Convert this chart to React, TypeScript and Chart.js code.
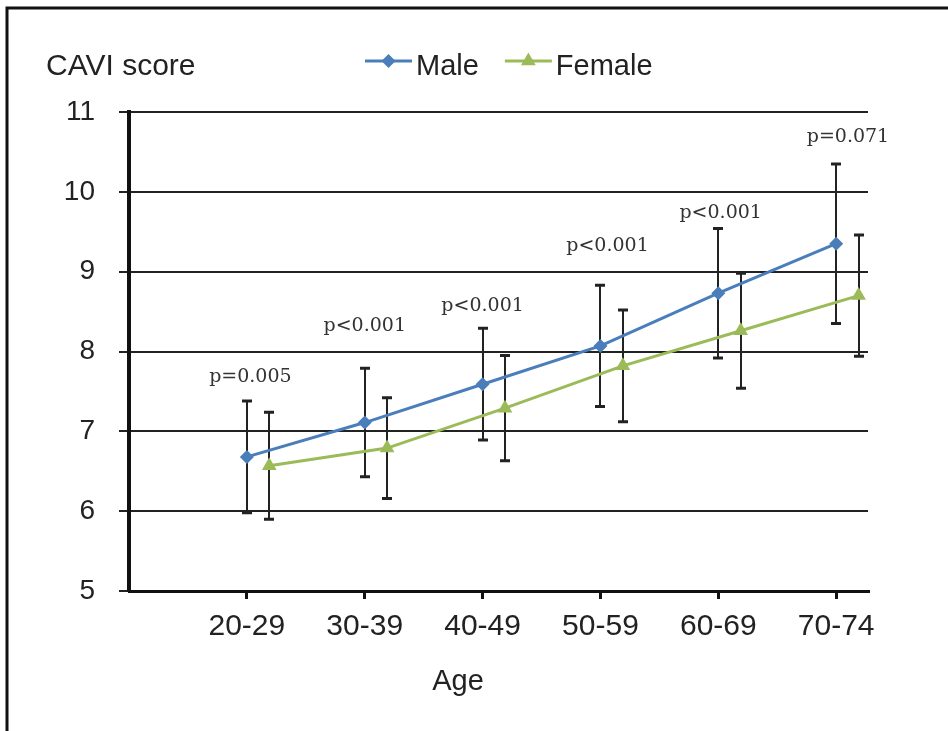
import React, { useEffect, useRef } from 'react';
import { Chart, registerables } from 'chart.js';

Chart.register(...registerables);

// ---- data ----
const categories = ['20-29', '30-39', '40-49', '50-59', '60-69', '70-74'];
const maleMean = [6.68, 7.11, 7.59, 8.07, 8.73, 9.35];
const maleSD = [0.7, 0.68, 0.7, 0.76, 0.81, 1.0];
const femaleMean = [6.57, 6.79, 7.29, 7.82, 8.26, 8.7];
const femaleSD = [0.67, 0.63, 0.66, 0.7, 0.72, 0.76];
const pValues = ['p=0.005', 'p<0.001', 'p<0.001', 'p<0.001', 'p<0.001', 'p=0.071'];
const pLabelX = [1.03, 2.0, 3.0, 4.06, 5.02, 6.1];
const pLabelY = [7.68, 8.32, 8.57, 9.32, 9.73, 10.69];
const yTicks = [5, 6, 7, 8, 9, 10, 11];

// ---- style ----
const MALE_COLOR = '#4a7ebb';
const FEMALE_COLOR = '#9bbb59';
const FEMALE_SHIFT = 0.19;
const SANS = "'Liberation Sans', Arial, sans-serif";
const SERIF = "'DejaVu Serif', serif";
const TEXT = '#222';

function drawMarker(ctx: CanvasRenderingContext2D, style: string, x: number, y: number, r: number, color: string) {
  ctx.save();
  ctx.fillStyle = color;
  ctx.beginPath();
  if (style === 'triangle') {
    ctx.moveTo(x, y - r);
    ctx.lineTo(x + r * 0.866, y + r * 0.5);
    ctx.lineTo(x - r * 0.866, y + r * 0.5);
  } else {
    ctx.moveTo(x, y - r);
    ctx.lineTo(x + r, y);
    ctx.lineTo(x, y + r);
    ctx.lineTo(x - r, y);
  }
  ctx.closePath();
  ctx.fill();
  ctx.restore();
}

const extrasPlugin = {
  id: 'extras',
  beforeDatasetsDraw(chart: any) {
    const { ctx } = chart;
    const x = chart.scales.x;
    const y = chart.scales.y;
    ctx.save();
    ctx.strokeStyle = '#222';
    chart.data.datasets.forEach((ds: any) => {
      ds.data.forEach((p: any) => {
        const px = Math.round(x.getPixelForValue(p.x));
        const top = y.getPixelForValue(p.y + p.sd);
        const bot = y.getPixelForValue(p.y - p.sd);
        ctx.lineWidth = 2;
        ctx.beginPath();
        ctx.moveTo(px, top);
        ctx.lineTo(px, bot);
        ctx.stroke();
        ctx.lineWidth = 3;
        ctx.beginPath();
        ctx.moveTo(px - 5, top);
        ctx.lineTo(px + 5, top);
        ctx.moveTo(px - 5, bot);
        ctx.lineTo(px + 5, bot);
        ctx.stroke();
      });
    });
    ctx.restore();
  },
  afterDraw(chart: any) {
    const { ctx, chartArea } = chart;
    const x = chart.scales.x;
    const y = chart.scales.y;
    ctx.save();
    // frame
    ctx.strokeStyle = '#111';
    ctx.lineWidth = 3;
    ctx.beginPath();
    ctx.moveTo(7, chart.height);
    ctx.lineTo(7, 8);
    ctx.lineTo(chart.width, 8);
    ctx.stroke();

    // y axis title
    ctx.fillStyle = TEXT;
    ctx.font = `30px ${SANS}`;
    ctx.textAlign = 'left';
    ctx.textBaseline = 'alphabetic';
    ctx.fillText('CAVI score', 46, 75);

    // legend
    ctx.font = `29px ${SANS}`;
    let lx = 365;
    const ly = 61;
    chart.data.datasets.forEach((ds: any) => {
      ctx.strokeStyle = ds.borderColor;
      ctx.lineWidth = 3;
      ctx.beginPath();
      ctx.moveTo(lx, ly);
      ctx.lineTo(lx + 47, ly);
      ctx.stroke();
      drawMarker(ctx, ds.pointStyle, lx + 23.5, ly, ds.pointRadius, ds.backgroundColor);
      ctx.fillStyle = TEXT;
      ctx.fillText(ds.label, lx + 51, 75);
      lx += 51 + ctx.measureText(ds.label).width + 26;
    });

    // x axis title
    ctx.font = `29px ${SANS}`;
    ctx.textAlign = 'center';
    ctx.fillText('Age', chartArea.left + 329, 690);

    // p-values
    ctx.font = `19px ${SERIF}`;
    ctx.fillStyle = '#333';
    ctx.textBaseline = 'middle';
    pValues.forEach((t, i) => {
      ctx.fillText(t, x.getPixelForValue(pLabelX[i]), y.getPixelForValue(pLabelY[i]));
    });
    ctx.restore();
  },
};

export default function App() {
  const ref = useRef<HTMLCanvasElement | null>(null);
  useEffect(() => {
    if (!ref.current) return;
    const chart = new Chart(ref.current, {
      type: 'line',
      data: {
        datasets: [
          {
            label: 'Male',
            data: categories.map((_, i) => ({ x: i + 1, y: maleMean[i], sd: maleSD[i] })) as any,
            borderColor: MALE_COLOR,
            backgroundColor: MALE_COLOR,
            borderWidth: 3,
            pointStyle: 'rectRot',
            pointRadius: 7,
            pointBorderWidth: 0,
          },
          {
            label: 'Female',
            data: categories.map((_, i) => ({ x: i + 1 + FEMALE_SHIFT, y: femaleMean[i], sd: femaleSD[i] })) as any,
            borderColor: FEMALE_COLOR,
            backgroundColor: FEMALE_COLOR,
            borderWidth: 3,
            pointStyle: 'triangle',
            pointRadius: 8.5,
            pointBorderWidth: 0,
          },
        ],
      },
      options: {
        animation: false,
        responsive: true,
        maintainAspectRatio: false,
        layout: { padding: { top: 112, right: 80, left: 0, bottom: 0 } },
        plugins: { legend: { display: false }, tooltip: { enabled: false } },
        scales: {
          x: {
            type: 'linear',
            min: 0,
            max: 6.27,
            afterBuildTicks: (s: any) => {
              s.ticks = categories.map((_, i) => ({ value: i + 1 }));
            },
            afterFit: (s: any) => {
              s.height = 140;
            },
            ticks: {
              callback: (v: any) => categories[Number(v) - 1] ?? '',
              font: { family: SANS, size: 30 },
              color: TEXT,
              padding: 10,
              maxRotation: 0,
              autoSkip: false,
            },
            grid: { drawOnChartArea: false, drawTicks: true, tickLength: 8, color: '#111', lineWidth: 3 },
            border: { display: true, color: '#111', width: 3 },
          },
          y: {
            type: 'linear',
            min: 5,
            max: 11,
            afterBuildTicks: (s: any) => {
              s.ticks = yTicks.map((v) => ({ value: v }));
            },
            afterFit: (s: any) => {
              s.width = 129;
            },
            ticks: { font: { family: SANS, size: 28 }, color: TEXT, padding: 24 },
            grid: { color: '#222', lineWidth: 2, tickLength: 10, drawTicks: true },
            border: { display: true, color: '#111', width: 4 },
          },
        },
      } as any,
      plugins: [extrasPlugin],
    });
    return () => chart.destroy();
  }, []);

  return (
    <div style={{ position: 'absolute', left: 0, top: 0, width: 948, height: 731, background: '#fff' }}>
      <canvas ref={ref} />
    </div>
  );
}
